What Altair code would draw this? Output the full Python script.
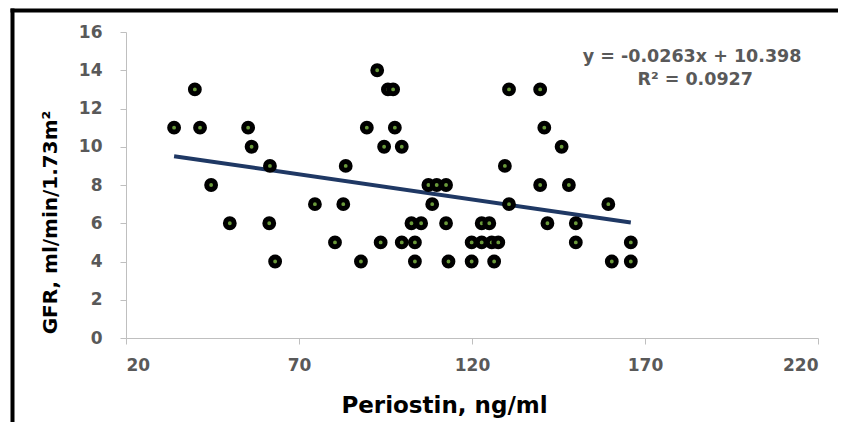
import altair as alt
import pandas as pd

# Data
periostin = [92.6,
             39.9, 95.7, 97.2, 130.7, 139.7,
             33.9, 41.4, 55.3, 89.6, 97.7, 140.9,
             56.3, 94.6, 99.7, 145.9,
             61.6, 83.5, 129.5,
             44.6, 107.4, 109.8, 112.5, 139.7, 148.0,
             74.6, 82.8, 108.5, 130.7, 159.4,
             50.0, 61.4, 102.5, 105.3, 112.5, 122.8, 125.0, 141.8, 150.0,
             80.4, 93.6, 99.7, 103.5, 119.9, 122.8, 125.7, 127.6, 150.0, 165.9,
             63.1, 87.9, 103.5, 113.2, 119.9, 126.4, 160.4, 165.9]
gfr = [14,
       13, 13, 13, 13, 13,
       11, 11, 11, 11, 11, 11,
       10, 10, 10, 10,
       9, 9, 9,
       8, 8, 8, 8, 8, 8,
       7, 7, 7, 7, 7,
       6, 6, 6, 6, 6, 6, 6, 6, 6,
       5, 5, 5, 5, 5, 5, 5, 5, 5, 5,
       4, 4, 4, 4, 4, 4, 4, 4]

slope = -0.0263
intercept = 10.398
eq_lines = ["y = -0.0263x + 10.398", "R\u00b2 = 0.0927"]
eq_x = [183.6, 184.5]
eq_y = [14.7, 13.5]

x_ticks = [20, 70, 120, 170, 220]
y_ticks = [0, 2, 4, 6, 8, 10, 12, 14, 16]

pts = pd.DataFrame({"x": periostin, "y": gfr})
xs = [min(periostin), max(periostin)]
trend = pd.DataFrame({"x": xs, "y": [slope * v + intercept for v in xs]})
eq = pd.DataFrame({"x": eq_x, "y": eq_y, "t": eq_lines})

FONT = "DejaVu Sans"
GRAY = "#595959"

xscale = alt.Scale(domain=[20, 220], nice=False, zero=False)
yscale = alt.Scale(domain=[0, 16], nice=False)

xaxis = alt.Axis(values=x_ticks, grid=False, domainColor="#bfbfbf", tickColor="#bfbfbf",
                 tickSize=6, labelFont=FONT, labelFontWeight="bold", labelFontSize=17,
                 labelColor=GRAY, labelPadding=13, labelOverlap=False,
                 title="Periostin, ng/ml",
                 titleFont=FONT, titleFontWeight="bold", titleFontSize=23, titleColor="black",
                 titleX=318, titleY=67, titleBaseline="middle", titleAlign="center")
yaxis = alt.Axis(values=y_ticks, grid=False, domainColor="#bfbfbf", tickColor="#bfbfbf",
                 tickSize=6, labelFont=FONT, labelFontWeight="bold", labelFontSize=17,
                 labelColor=GRAY, labelPadding=18, labelOverlap=False,
                 title="GFR, ml/min/1.73m\u00b2",
                 titleFont=FONT, titleFontWeight="bold", titleFontSize=20, titleColor="black",
                 titleX=-76, titleY=190, titleAngle=270, titleBaseline="middle",
                 titleAlign="center")

points = alt.Chart(pts).mark_circle(size=78, fill="#6a9a3a", stroke="black",
                                    strokeWidth=5, opacity=1).encode(
    x=alt.X("x:Q", scale=xscale, axis=xaxis),
    y=alt.Y("y:Q", scale=yscale, axis=yaxis),
)

line = alt.Chart(trend).mark_line(color="#1f3864", strokeWidth=4).encode(
    x=alt.X("x:Q", scale=xscale, axis=xaxis),
    y=alt.Y("y:Q", scale=yscale, axis=yaxis),
)

text = alt.Chart(eq).mark_text(font=FONT, fontWeight="bold", fontSize=17.5, color=GRAY,
                               align="center", baseline="middle").encode(
    x=alt.X("x:Q", scale=xscale, axis=xaxis),
    y=alt.Y("y:Q", scale=yscale, axis=yaxis),
    text="t:N",
)

one = pd.DataFrame({"a": [0]})
frame_top = alt.Chart(one).mark_rule(color="black", strokeWidth=4).encode(
    x=alt.value(-115.5), x2=alt.value(712), y=alt.value(-21.5)
)
frame_left = alt.Chart(one).mark_rule(color="black", strokeWidth=4).encode(
    x=alt.value(-113.5), y=alt.value(-23.5), y2=alt.value(400)
)

chart = alt.layer(line, points, text, frame_top, frame_left).properties(
    width=692, height=306,
    padding={"left": 118, "top": 24, "right": 20, "bottom": 84},
    autosize=alt.AutoSizeParams(type="none"),
    background="white",
).configure_view(stroke=None)

chart.save("out.html", embed_options={"renderer": "svg", "actions": False})
